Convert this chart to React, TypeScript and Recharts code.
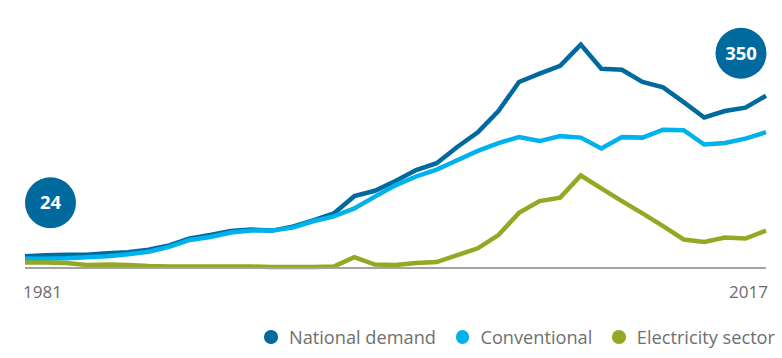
import React from "react";
import { LineChart, Line, XAxis, YAxis, LabelList } from "recharts";

const years = [
  1981, 1982, 1983, 1984, 1985, 1986, 1987, 1988, 1989, 1990, 1991, 1992, 1993,
  1994, 1995, 1996, 1997, 1998, 1999, 2000, 2001, 2002, 2003, 2004, 2005, 2006,
  2007, 2008, 2009, 2010, 2011, 2012, 2013, 2014, 2015, 2016, 2017,
];

const nationalDemand = [
  24, 26, 27, 27, 30, 32, 37, 46, 60, 67, 75, 78, 76, 84, 97, 111, 146, 157,
  177, 199, 213, 246, 276, 319, 378, 395, 411, 454, 405, 403, 378, 367, 337, 306,
  319, 326, 350,
];

const conventional = [
  19, 19, 20, 22, 24, 28, 33, 43, 57, 63, 72, 76, 76, 82, 95, 105, 121, 145,
  168, 186, 200, 219, 238, 254, 266, 258, 268, 265, 243, 266, 265, 281, 280, 251,
  254, 263, 276,
];

const electricitySector = [
  11, 11, 10, 6, 7, 6, 4, 3, 3, 3, 3, 3, 2, 2, 2, 3, 22, 7, 6, 10, 12, 26, 40,
  67, 112, 136, 143, 188, 162, 136, 111, 85, 58, 53, 62, 60, 76,
];

const tickYears = [1981, 2017];

const seriesNames = ["National demand", "Conventional", "Electricity sector"];
const seriesColors = ["#006a9e", "#00b2ec", "#93a823"];

const data = years.map((year, i) => ({
  year,
  national: nationalDemand[i],
  conventional: conventional[i],
  electricity: electricitySector[i],
}));

const FONT = "'Open Sans', sans-serif";

const AxisTick = (props: any) => {
  const { x, y, payload } = props;
  const isFirst = payload.value === tickYears[0];
  return (
    <text
      x={isFirst ? x - 2 : x + 2}
      y={y + 22}
      textAnchor={isFirst ? "start" : "end"}
      fill="#6b6b6b"
      fontSize={17}
      fontFamily={FONT}
    >
      {payload.value}
    </text>
  );
};

const BubbleLabel = (props: any) => {
  const { x, y, index, value } = props;
  const last = years.length - 1;
  if (index !== 0 && index !== last) return null;
  const cx = index === 0 ? x + 25.5 : x - 25;
  const cy = index === 0 ? y - 53.5 : y - 42.5;
  return (
    <g>
      <circle cx={cx} cy={cy} r={25.5} fill={seriesColors[0]} />
      <text
        x={cx}
        y={cy + 6.5}
        textAnchor="middle"
        fill="#ffffff"
        fontSize={18.5}
        fontWeight={700}
        fontFamily={FONT}
      >
        {value}
      </text>
    </g>
  );
};

export default function App() {
  return (
    <div
      style={{
        position: "absolute",
        left: 0,
        top: 0,
        width: 782,
        height: 358,
        background: "#ffffff",
        fontFamily: FONT,
      }}
    >
      <LineChart
        width={782}
        height={358}
        data={data}
        margin={{ top: 22, right: 16, left: 25, bottom: 60 }}
      >
        <XAxis
          dataKey="year"
          type="number"
          domain={[1981, 2017]}
          ticks={tickYears}
          tickLine={false}
          axisLine={{ stroke: "#a3a3a3", strokeWidth: 2 }}
          height={30}
          tick={<AxisTick />}
          interval={0}
        />
        <YAxis hide domain={[0, 500]} />
        <Line
          dataKey="national"
          stroke={seriesColors[0]}
          strokeWidth={4.5}
          dot={false}
          type="linear"
          strokeLinejoin="miter"
          isAnimationActive={false}
        >
          <LabelList dataKey="national" content={<BubbleLabel />} />
        </Line>
        <Line
          dataKey="conventional"
          stroke={seriesColors[1]}
          strokeWidth={4.5}
          dot={false}
          type="linear"
          strokeLinejoin="miter"
          isAnimationActive={false}
        />
        <Line
          dataKey="electricity"
          stroke={seriesColors[2]}
          strokeWidth={4.5}
          dot={false}
          type="linear"
          strokeLinejoin="miter"
          isAnimationActive={false}
        />
      </LineChart>
      <div
        style={{
          position: "absolute",
          right: 7,
          top: 325,
          height: 24,
          display: "flex",
          alignItems: "center",
          fontSize: 18.2,
          color: "#6f6f6f",
          whiteSpace: "nowrap",
        }}
      >
        {seriesNames.map((name, i) => (
          <div
            key={name}
            style={{
              display: "flex",
              alignItems: "center",
              marginLeft: i === 0 ? 0 : 20,
            }}
          >
            <span
              style={{
                display: "inline-block",
                width: 13.5,
                height: 13.5,
                borderRadius: "50%",
                background: seriesColors[i],
                marginRight: 11,
              }}
            />
            <span>{name}</span>
          </div>
        ))}
      </div>
    </div>
  );
}
